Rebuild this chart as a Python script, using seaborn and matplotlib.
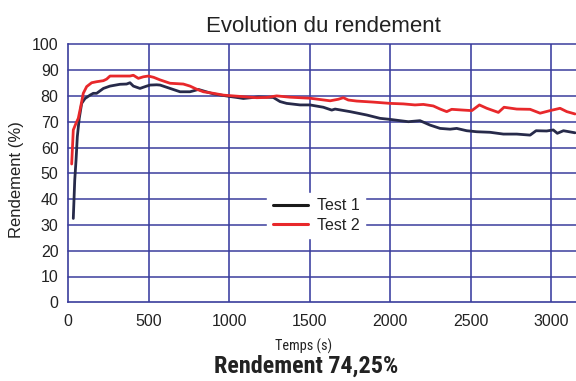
import matplotlib
matplotlib.use("Agg")
import matplotlib.pyplot as plt
from matplotlib import font_manager as fm
from matplotlib.lines import Line2D
import seaborn as sns
import pandas as pd

# Test 1 : temps (s) et rendement (%)
t1 = [31, 40, 48, 56, 68, 83, 104, 135, 155, 176, 218, 259, 321, 362, 383, 404,
      445, 487, 508, 549, 570, 632, 694, 756, 808, 900, 1000, 1046, 1087, 1180,
      1273, 1315, 1356, 1439, 1501, 1584, 1636, 1657, 1750, 1853, 1936, 1998,
      2060, 2112, 2184, 2246, 2309, 2371, 2412, 2474, 2537, 2619, 2702, 2785,
      2868, 2905, 2971, 3012, 3037, 3075, 3147]
rend1 = [32.5, 47.4, 55.0, 64.2, 71.3, 77.1, 79.0, 80.3, 81.0, 81.0, 82.9, 83.8,
         84.5, 84.6, 85.1, 83.8, 82.9, 83.8, 84.2, 84.3, 84.2, 82.9, 81.6, 81.6,
         82.5, 80.8, 79.8, 79.4, 79.0, 79.6, 79.4, 77.8, 77.1, 76.5, 76.5, 75.6,
         74.5, 74.9, 73.9, 72.6, 71.3, 70.9, 70.4, 70.0, 70.4, 68.7, 67.4, 67.1,
         67.4, 66.5, 66.1, 65.9, 65.2, 65.2, 64.8, 66.5, 66.4, 66.8, 65.5, 66.5,
         65.7]

# Test 2 : temps (s) et rendement (%)
t2 = [21, 31, 48, 62, 77, 93, 114, 145, 176, 218, 238, 259, 321, 383, 404, 435,
      466, 497, 530, 570, 632, 714, 756, 797, 839, 901, 963, 1004, 1087, 1170,
      1232, 1294, 1377, 1439, 1501, 1626, 1677, 1708, 1739, 1791, 1894, 1998,
      2081, 2153, 2205, 2267, 2309, 2350, 2381, 2453, 2506, 2553, 2599, 2671,
      2706, 2785, 2868, 2930, 2992, 3054, 3096, 3147]
rend2 = [53.6, 66.8, 69.4, 71.3, 75.8, 81.0, 83.6, 85.1, 85.5, 85.9, 86.5, 87.7,
         87.7, 87.7, 88.0, 86.8, 87.4, 87.7, 87.2, 86.2, 84.9, 84.6, 83.8, 82.6,
         81.6, 81.0, 80.3, 80.1, 79.7, 79.3, 79.4, 80.0, 79.5, 79.3, 79.1, 78.1,
         78.7, 79.3, 78.4, 78.0, 77.6, 77.1, 76.9, 76.5, 76.7, 76.1, 74.9, 73.9,
         74.8, 74.5, 74.3, 76.5, 75.2, 73.6, 75.6, 74.9, 74.8, 73.3, 74.3, 75.2,
         73.9, 73.0]

series_names = ["Test 1", "Test 2"]
x_ticks = [0, 500, 1000, 1500, 2000, 2500, 3000]
y_ticks = list(range(0, 101, 10))


def pick_family(names, default="DejaVu Sans"):
    for n in names:
        try:
            fm.findfont(fm.FontProperties(family=n), fallback_to_default=False)
            return n
        except ValueError:
            continue
    return default


def narrow_font(bold):
    """Look for a condensed face among the installed fonts."""
    preferred = ["Liberation Sans Narrow", "Arial Narrow", "Roboto Condensed",
                 "Open Sans Condensed", "Noto Sans Condensed", "DejaVu Sans"]
    found = []
    for f in fm.fontManager.ttflist:
        narrow = ("Narrow" in f.name or "Condensed" in f.name
                  or str(f.stretch) in ("condensed", "semi-condensed"))
        if not narrow or f.style != "normal":
            continue
        w = f.weight if isinstance(f.weight, int) else (700 if "bold" in str(f.weight) else 400)
        if bold and w < 600:
            continue
        if not bold and (w < 350 or w > 500):
            continue
        rank = preferred.index(f.name) if f.name in preferred else len(preferred)
        found.append((rank, abs(w - (700 if bold else 400)), f.fname))
    if not found:
        return None
    found.sort()
    return found[0][2]


SANS = pick_family(["Liberation Sans", "Arial"])
NARROW_REG = narrow_font(False)
NARROW_BOLD = narrow_font(True)

sns.set_theme(style="white")
plt.rcParams["font.family"] = [SANS, "DejaVu Sans"]

GRID = "#3a3d9c"
TEXT = "#222222"
DARK = "#272a4a"
RED = "#e8282b"

fig = plt.figure(figsize=(5.76, 3.81), dpi=100)
ax = fig.add_axes([68.3 / 576, 1 - 302.3 / 381, 1 - 68.3 / 576, (302.3 - 44.3) / 381])

df1 = pd.DataFrame({"t": t1, "r": rend1})
df2 = pd.DataFrame({"t": t2, "r": rend2})
sns.lineplot(data=df1, x="t", y="r", color=DARK, lw=2.0, ax=ax, zorder=3)
sns.lineplot(data=df2, x="t", y="r", color=RED, lw=2.0, ax=ax, zorder=4)

ax.set_xlim(0, 3153)
ax.set_ylim(0, 100)
ax.set_xticks(x_ticks)
ax.set_yticks(y_ticks)
ax.set_xlabel("")
ax.set_ylabel("")

# grid
for v in x_ticks[1:]:
    ax.axvline(v, color="#4f53aa", lw=1.3, zorder=1)
for v in y_ticks[1:]:
    ax.axhline(v, color=GRID, lw=1.1, zorder=1, clip_on=False)

for side in ["top", "right"]:
    ax.spines[side].set_visible(False)
for side in ["left", "bottom"]:
    ax.spines[side].set_color(GRID)
    ax.spines[side].set_linewidth(1.2)

ax.tick_params(axis="both", which="major", direction="out", length=3.5,
               width=1.1, color=GRID, labelsize=11.5, labelcolor=TEXT)
ax.tick_params(axis="x", pad=5)
ax.tick_params(axis="y", pad=3.5)

# legend
handles = [Line2D([], [], color="#1a1a1a", lw=2.2),
           Line2D([], [], color=RED, lw=2.2)]
leg = fig.legend(handles, series_names, loc="center",
                 bbox_to_anchor=(316 / 576, 1 - 215.5 / 381),
                 frameon=True, fancybox=False, facecolor="white",
                 edgecolor="white", framealpha=1.0, fontsize=11.5,
                 handlelength=2.2, handletextpad=0.55, labelspacing=0.3,
                 borderpad=0.35)
for t in leg.get_texts():
    t.set_color(TEXT)

# texts
fig.text(323 / 576, 1 - 31.7 / 381, "Evolution du rendement", ha="center",
         va="baseline", fontsize=16, color=TEXT)
fig.text(17 / 576, 1 - 180 / 381, "Rendement (%)", rotation=90, ha="center",
         va="center", fontsize=12, color=TEXT)


def fitted_text(x, y, s, width_px, size, fname, bold):
    if fname:
        fp = fm.FontProperties(fname=fname, size=size)
    else:
        fp = fm.FontProperties(family=SANS, size=size,
                               weight="bold" if bold else "normal")
    t = fig.text(x, y, s, ha="center", va="baseline", color=TEXT,
                 fontproperties=fp)
    fig.canvas.draw()
    w = t.get_window_extent().width
    if w > 0:
        t.set_fontsize(size * width_px / w)
    return t


fitted_text(303.5 / 576, 1 - 350.7 / 381, "Temps (s)", 57, 11.4, NARROW_REG, False)
fitted_text(306 / 576, 1 - 372.7 / 381, "Rendement 74,25%", 184, 18.4, NARROW_BOLD, True)

fig.savefig("out.png", dpi=100)
